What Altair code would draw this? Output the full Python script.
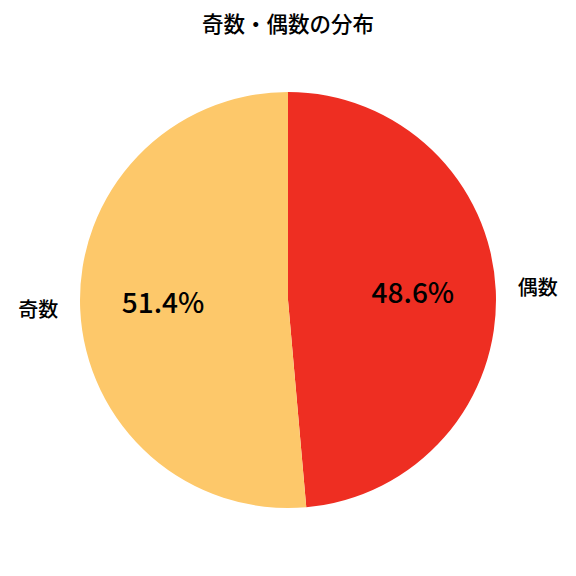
import altair as alt
import pandas as pd

categories = ["偶数", "奇数"]
values = [48.6, 51.4]
labels = ["48.6%", "51.4%"]
colors = ["#EE2E22", "#FDC86A"]
order = [0, 1]

df = pd.DataFrame({"cat": categories, "val": values, "lab": labels, "ord": order})

FONT = "'Noto Sans CJK JP Medium', 'Noto Sans CJK JP'"

base = alt.Chart(df).encode(
    theta=alt.Theta("val:Q", stack=True),
    order=alt.Order("ord:Q"),
)

arc = base.mark_arc(outerRadius=208).encode(
    color=alt.Color("cat:N", scale=alt.Scale(domain=categories, range=colors), legend=None)
)

pct = base.mark_text(radius=125, font=FONT, fontSize=28, color="black").encode(text="lab:N")
cat = base.mark_text(radius=250, font=FONT, fontSize=20, color="black").encode(text="cat:N")

chart = alt.layer(arc, pct, cat).properties(
    width=560,
    height=484,
    padding={"left": 0, "top": 50, "right": 0, "bottom": 0},
    autosize=alt.AutoSizeParams(type="none"),
    title=alt.TitleParams("奇数・偶数の分布", font=FONT, fontSize=21.5, fontWeight="normal",
                          anchor="middle", frame="group", offset=22, color="black"),
).configure_view(stroke=None)

chart.save("out.html", embed_options={"renderer": "svg", "actions": False})
